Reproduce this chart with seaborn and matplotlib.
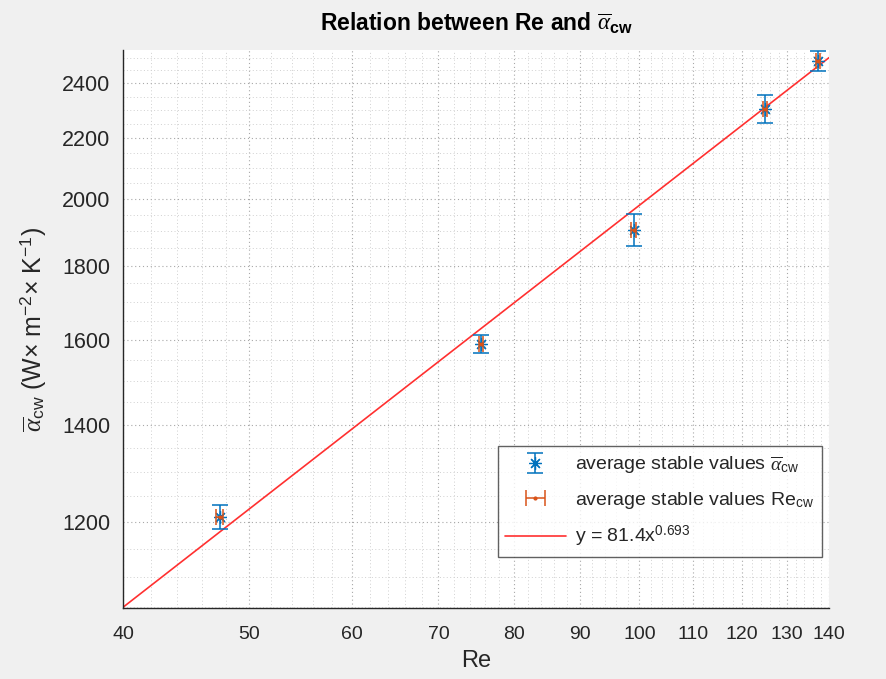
import numpy as np
import pandas as pd
import matplotlib
matplotlib.use("Agg")
import matplotlib.pyplot as plt
from matplotlib.ticker import FixedLocator, NullFormatter
from matplotlib.lines import Line2D
from matplotlib.container import ErrorbarContainer
import seaborn as sns

# ---- data ----
re_vals = [47.5, 75.5, 99.0, 125.0, 137.3]
alpha_vals = [1210, 1590, 1905, 2305, 2487]
alpha_err = [23, 23, 48, 52, 39]
re_err = [0.3, 0.3, 0.4, 0.4, 0.4]
fit_a = 81.4
fit_b = 0.693
fit_x = [40, 140]
x_ticks = [40, 50, 60, 70, 80, 90, 100, 110, 120, 130, 140]
y_ticks = [1200, 1400, 1600, 1800, 2000, 2200, 2400]

sns.set_style("white")
plt.rcParams["font.family"] = ["Liberation Sans", "DejaVu Sans"]
plt.rcParams["mathtext.fontset"] = "custom"
plt.rcParams["mathtext.rm"] = "Liberation Sans"
plt.rcParams["mathtext.it"] = "Liberation Serif:italic"
plt.rcParams["mathtext.bf"] = "Liberation Sans:bold"

TXT = "#262626"
BLUE = "#0072BD"
ORANGE = "#D95319"
RED = "#FF3030"

fig = plt.figure(figsize=(8.87, 6.79), dpi=100, facecolor="#f0f0f0")
ax = fig.add_axes([0.1387, 0.1046, 0.7960, 0.8218])
ax.set_facecolor("white")

fit_df = pd.DataFrame({"x": fit_x, "y": [fit_a * v ** fit_b for v in fit_x]})

ax.set_xscale("log")
ax.set_yscale("log")

h1 = ax.errorbar(re_vals, alpha_vals, yerr=alpha_err, fmt="none", ecolor=BLUE,
                 elinewidth=1.1, capsize=5.5, capthick=1.1, zorder=3)
ax.plot(re_vals, alpha_vals, linestyle="none", marker=(8, 2, 0), markersize=9,
        markeredgewidth=0.9, color=BLUE, zorder=4)
h2 = ax.errorbar(re_vals, alpha_vals, xerr=re_err, fmt=".", color=ORANGE,
                 markersize=4, elinewidth=1.1, capsize=5.5, capthick=1.1, zorder=5)
sns.lineplot(data=fit_df, x="x", y="y", color=RED, linewidth=1.2, ax=ax, zorder=2,
             legend=False)

ax.set_xlim(40, 140)
ax.set_ylim(1048, 2530)

ax.xaxis.set_major_locator(FixedLocator(x_ticks))
ax.xaxis.set_minor_locator(FixedLocator(list(range(40, 141, 2))))
ax.yaxis.set_major_locator(FixedLocator(y_ticks))
ax.yaxis.set_minor_locator(FixedLocator(list(range(1050, 2551, 50))))
ax.set_xticklabels([str(v) for v in x_ticks])
ax.set_yticklabels([str(v) for v in y_ticks])
ax.xaxis.set_minor_formatter(NullFormatter())
ax.yaxis.set_minor_formatter(NullFormatter())

ax.tick_params(which="both", direction="in", colors=TXT, width=0.8)
ax.tick_params(axis="y", labelsize=15.5)
ax.tick_params(axis="x", labelsize=14)
ax.tick_params(which="major", length=5)
ax.tick_params(axis="x", which="major", pad=13)
ax.tick_params(axis="y", which="major", pad=9)
ax.tick_params(which="minor", length=2.5)

ax.grid(which="major", linestyle=(0, (1, 2.5)), color="#a8a8a8", linewidth=0.8)
ax.grid(which="minor", linestyle=(0, (1, 2.5)), color="#d0d0d0", linewidth=0.7)
ax.set_axisbelow(True)

for s in ["top", "right"]:
    ax.spines[s].set_visible(False)
for s in ["left", "bottom"]:
    ax.spines[s].set_color(TXT)
    ax.spines[s].set_linewidth(1.0)

ax.set_title(r"Relation between Re and $\overline{\alpha}_{\mathbf{cw}}$",
             fontsize=16.5, fontweight="bold", color="black", pad=14)
ax.set_xlabel("Re", fontsize=17, color=TXT, labelpad=5)
ax.set_ylabel(r"$\overline{\alpha}_{\mathrm{cw}}$ (W$\times$ m$^{-2}$$\times$ K$^{-1}$)",
              fontsize=18, color=TXT, labelpad=10)

blue_line = Line2D([], [], linestyle="none", marker=(8, 2, 0), markersize=9,
                   markeredgewidth=0.9, color=BLUE)
blue_handle = ErrorbarContainer((blue_line, h1.lines[1], h1.lines[2]),
                                has_xerr=False, has_yerr=True)
fit_handle = Line2D([], [], color=RED, linewidth=1.2)
leg = ax.legend([blue_handle, h2, fit_handle],
                [r"average stable values $\overline{\alpha}_{\mathrm{cw}}$",
                 r"average stable values Re$_{\mathrm{cw}}$",
                 r"y = 81.4x$^{0.693}$"],
                loc="lower right", bbox_to_anchor=(0.99, 0.091), borderaxespad=0,
                fontsize=14, frameon=True, fancybox=False, edgecolor="#3a3a3a",
                handlelength=3.1, handletextpad=0.5, labelspacing=0.7,
                borderpad=0.4, labelcolor=TXT)
leg.get_frame().set_linewidth(1.0)

fig.savefig("out.png", dpi=100, facecolor=fig.get_facecolor())
